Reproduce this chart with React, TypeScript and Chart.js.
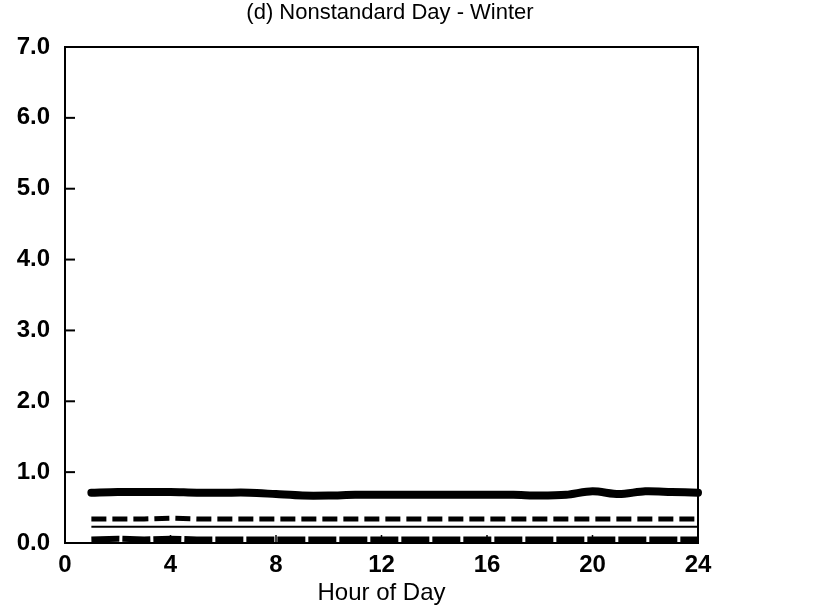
import React, { useEffect, useRef } from "react";
import { Chart, registerables } from "chart.js";

Chart.register(...registerables);

const titleText = "(d) Nonstandard Day - Winter";
const xAxisTitle = "Hour of Day";
const hours = [1, 2, 3, 4, 5, 6, 7, 8, 9, 10, 11, 12, 13, 14, 15, 16, 17, 18, 19, 20, 21, 22, 23, 24];
const thickSeries = [0.71, 0.72, 0.72, 0.72, 0.71, 0.71, 0.71, 0.69, 0.67, 0.67, 0.68, 0.68, 0.68, 0.68, 0.68, 0.68, 0.68, 0.67, 0.68, 0.73, 0.69, 0.73, 0.72, 0.71];
const dashedSeries = [0.34, 0.34, 0.34, 0.35, 0.34, 0.34, 0.34, 0.34, 0.34, 0.34, 0.34, 0.34, 0.34, 0.34, 0.34, 0.34, 0.34, 0.34, 0.34, 0.34, 0.34, 0.34, 0.34, 0.34];
const thinSeries = [0.23, 0.23, 0.23, 0.23, 0.23, 0.23, 0.23, 0.23, 0.23, 0.23, 0.23, 0.23, 0.23, 0.23, 0.23, 0.23, 0.23, 0.23, 0.23, 0.23, 0.23, 0.23, 0.23, 0.23];
const bottomSeries = [0.05, 0.06, 0.05, 0.06, 0.05, 0.05, 0.05, 0.05, 0.05, 0.05, 0.05, 0.05, 0.05, 0.05, 0.05, 0.05, 0.05, 0.05, 0.05, 0.05, 0.05, 0.05, 0.05, 0.05];
const xTickValues = [0, 4, 8, 12, 16, 20, 24];
const yTickValues = [0, 1, 2, 3, 4, 5, 6, 7];

const FONT = "'Liberation Sans', Arial, Helvetica, sans-serif";

const toPoints = (vals: number[]) => hours.map((h, i) => ({ x: h, y: vals[i] }));

const framePlugin = {
  id: "frame",
  afterDatasetsDraw(chart: any) {
    const { ctx, chartArea } = chart;
    const xs = chart.scales.x;
    const ys = chart.scales.y;
    ctx.save();
    ctx.strokeStyle = "#000";
    ctx.lineWidth = 2;
    ctx.strokeRect(chartArea.left, chartArea.top, chartArea.right - chartArea.left, chartArea.bottom - chartArea.top);
    ctx.lineWidth = 2;
    yTickValues.forEach((v) => {
      const y = ys.getPixelForValue(v);
      ctx.beginPath();
      ctx.moveTo(chartArea.left, y);
      ctx.lineTo(chartArea.left + 10, y);
      ctx.stroke();
    });
    ctx.lineWidth = 1.5;
    xTickValues.forEach((v) => {
      const x = xs.getPixelForValue(v);
      ctx.beginPath();
      ctx.moveTo(x, chartArea.bottom);
      ctx.lineTo(x, chartArea.bottom - 8);
      ctx.stroke();
    });
    ctx.restore();
  },
  afterDraw(chart: any) {
    const { ctx } = chart;
    ctx.save();
    ctx.fillStyle = "#000";
    ctx.font = `22px ${FONT}`;
    ctx.textAlign = "center";
    ctx.textBaseline = "alphabetic";
    ctx.fillText(titleText, 390, 19);
    ctx.restore();
  },
};

export default function App() {
  const ref = useRef<HTMLCanvasElement | null>(null);
  useEffect(() => {
    document.body.style.margin = "0";
    const canvas = ref.current;
    if (!canvas) return;
    const chart = new Chart(canvas, {
      type: "line",
      data: {
        datasets: [
          {
            label: "A",
            data: toPoints(thickSeries),
            borderColor: "#000",
            borderWidth: 8,
            borderCapStyle: "round",
            pointRadius: 0,
            tension: 0.3,
          },
          {
            label: "B",
            data: toPoints(dashedSeries),
            borderColor: "#000",
            borderWidth: 5,
            borderDash: [15, 6],
            pointRadius: 0,
          },
          {
            label: "C",
            data: toPoints(thinSeries),
            borderColor: "#000",
            borderWidth: 2,
            pointRadius: 0,
          },
          {
            label: "D",
            data: toPoints(bottomSeries),
            borderColor: "#000",
            borderWidth: 6,
            borderDash: [28, 3],
            pointRadius: 0,
          },
        ],
      },
      options: {
        responsive: false,
        animation: false,
        clip: false as any,
        layout: { padding: { top: 47, right: 130, left: 0, bottom: 0 } },
        plugins: { legend: { display: false }, tooltip: { enabled: false }, title: { display: false } },
        scales: {
          x: {
            type: "linear",
            min: 0,
            max: 24,
            afterBuildTicks: (s: any) => {
              s.ticks = xTickValues.map((v) => ({ value: v }));
            },
            afterFit: (s: any) => {
              s.height = 70;
            },
            grid: { display: false, drawTicks: false },
            border: { display: false },
            ticks: {
              color: "#000",
              padding: 8,
              font: { family: FONT, size: 24, weight: "bold" },
              maxRotation: 0,
              autoSkip: false,
            },
            title: {
              display: true,
              text: xAxisTitle,
              color: "#000",
              font: { family: FONT, size: 24 },
              padding: { top: 0, bottom: 5 },
            },
          },
          y: {
            type: "linear",
            min: 0,
            max: 7,
            afterBuildTicks: (s: any) => {
              s.ticks = yTickValues.map((v) => ({ value: v }));
            },
            afterFit: (s: any) => {
              s.width = 65;
            },
            grid: { display: false, drawTicks: false },
            border: { display: false },
            ticks: {
              color: "#000",
              padding: 15,
              font: { family: FONT, size: 24, weight: "bold" },
              callback: (v: any) => Number(v).toFixed(1),
            },
          },
        },
      },
      plugins: [framePlugin],
    });
    return () => chart.destroy();
  }, []);
  return (
    <div style={{ width: 828, height: 613, background: "#fff" }}>
      <canvas ref={ref} width={828} height={613} />
    </div>
  );
}
